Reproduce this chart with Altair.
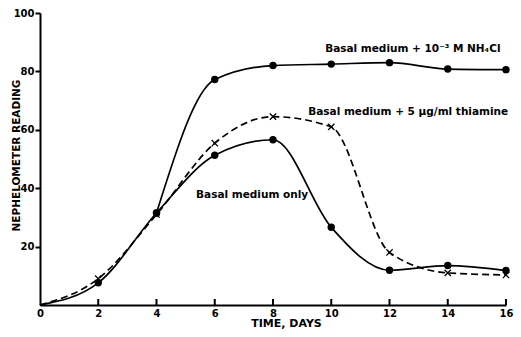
import altair as alt
import pandas as pd

# ---- data ----
days = [0, 2, 4, 6, 8, 10, 12, 14, 16]
basal_only = [0, 7.6, 31.5, 51.3, 56.6, 26.6, 11.9, 13.5, 11.8]
thiamine = [0, 9.0, 31.0, 55.4, 64.5, 61.0, 18.0, 11.0, 10.3]
nh4cl_days = [4, 6, 8, 10, 12, 14, 16]
nh4cl = [31.5, 77.2, 82.0, 82.5, 83.0, 80.8, 80.6]

x_ticks = [0, 2, 4, 6, 8, 10, 12, 14, 16]
y_ticks = [20, 40, 60, 80, 100]

label_text = ["Basal medium + 10\u207b\u00b3 M NH\u2084Cl",
              "Basal medium + 5 \u03bcg/ml thiamine",
              "Basal medium only"]
label_x = [9.79, 9.21, 5.36]
label_y = [87.6, 66.0, 37.8]

FONT = "DejaVu Sans"
W, H = 466, 292

rows = []
for d, v in zip(days, basal_only):
    rows.append({"day": d, "value": v, "series": "basal"})
for d, v in zip(days, thiamine):
    rows.append({"day": d, "value": v, "series": "thiamine"})
for d, v in zip(nh4cl_days, nh4cl):
    rows.append({"day": d, "value": v, "series": "nh4cl"})
df = pd.DataFrame(rows)

labels_df = pd.DataFrame({"text": label_text, "x": label_x, "y": label_y})
ticks_df = pd.DataFrame({"day": x_ticks[1:]})

x_scale = alt.Scale(domain=[0, 16], nice=False)
y_scale = alt.Scale(domain=[0, 100], nice=False)

x_axis = alt.Axis(values=x_ticks, title="TIME, DAYS", ticks=False, tickSize=0,
                  labelPadding=3, domainWidth=2, domainColor="black",
                  labelFont=FONT, labelFontWeight="bold", labelFontSize=10,
                  labelColor="black", labelFlush=False, labelOverlap=False,
                  titleFont=FONT, titleFontWeight="bold", titleFontSize=11,
                  titleColor="black", titleX=246, titleY=21.5,
                  titleBaseline="alphabetic", grid=False)
y_axis = alt.Axis(values=y_ticks, title="NEPHELOMETER READING", tickSize=5,
                  tickWidth=2, tickColor="black", labelPadding=1,
                  domainWidth=2, domainColor="black",
                  labelFont=FONT, labelFontWeight="bold", labelFontSize=10,
                  labelColor="black", labelOverlap=False, labelFlush=False,
                  titleFont=FONT, titleFontWeight="bold", titleFontSize=10.5,
                  titleColor="black", titleX=-24, titleY=142,
                  titleAlign="center", titleBaseline="middle", grid=False)

X = alt.X("day:Q", scale=x_scale, axis=x_axis)
Y = alt.Y("value:Q", scale=y_scale, axis=y_axis)

base = alt.Chart(df)

solid_lines = base.transform_filter(
    alt.FieldOneOfPredicate(field="series", oneOf=["basal", "nh4cl"])
).mark_line(interpolate="monotone", color="black", strokeWidth=1.7).encode(
    x=X, y=Y, detail="series:N")

dashed_line = base.transform_filter(
    alt.FieldEqualPredicate(field="series", equal="thiamine")
).mark_line(interpolate="monotone", color="black", strokeWidth=1.7,
            strokeDash=[7, 4]).encode(x=X, y=Y)

circles = base.transform_filter(
    "datum.series != 'thiamine' && datum.day > 0"
).mark_point(shape="circle", filled=True, size=55, color="black", opacity=1).encode(x=X, y=Y)

crosses = base.transform_filter(
    "datum.series == 'thiamine' && datum.day > 0"
).mark_point(shape="M-1,-1L1,1M-1,1L1,-1", filled=False, size=40,
             strokeWidth=1.3, color="black", opacity=1).encode(x=X, y=Y)

tick_rules = alt.Chart(ticks_df).mark_rule(color="black", strokeWidth=2).encode(
    x=alt.X("day:Q", scale=x_scale, axis=x_axis),
    y=alt.value(H), y2=alt.value(H - 6))

labels = alt.Chart(labels_df).mark_text(
    align="left", baseline="middle", font=FONT, fontWeight="bold",
    fontSize=10.5, color="black").encode(
    x=alt.X("x:Q", scale=x_scale, axis=x_axis),
    y=alt.Y("y:Q", scale=y_scale, axis=y_axis),
    text="text:N")

chart = alt.layer(tick_rules, dashed_line, solid_lines, circles, crosses, labels).properties(
    width=W, height=H,
    padding={"left": 32, "top": 5, "right": 7, "bottom": 24},
    autosize=alt.AutoSizeParams(type="none"),
    background="white",
).configure_view(stroke=None)

chart.save("out.html", embed_options={"renderer": "svg", "actions": False})
